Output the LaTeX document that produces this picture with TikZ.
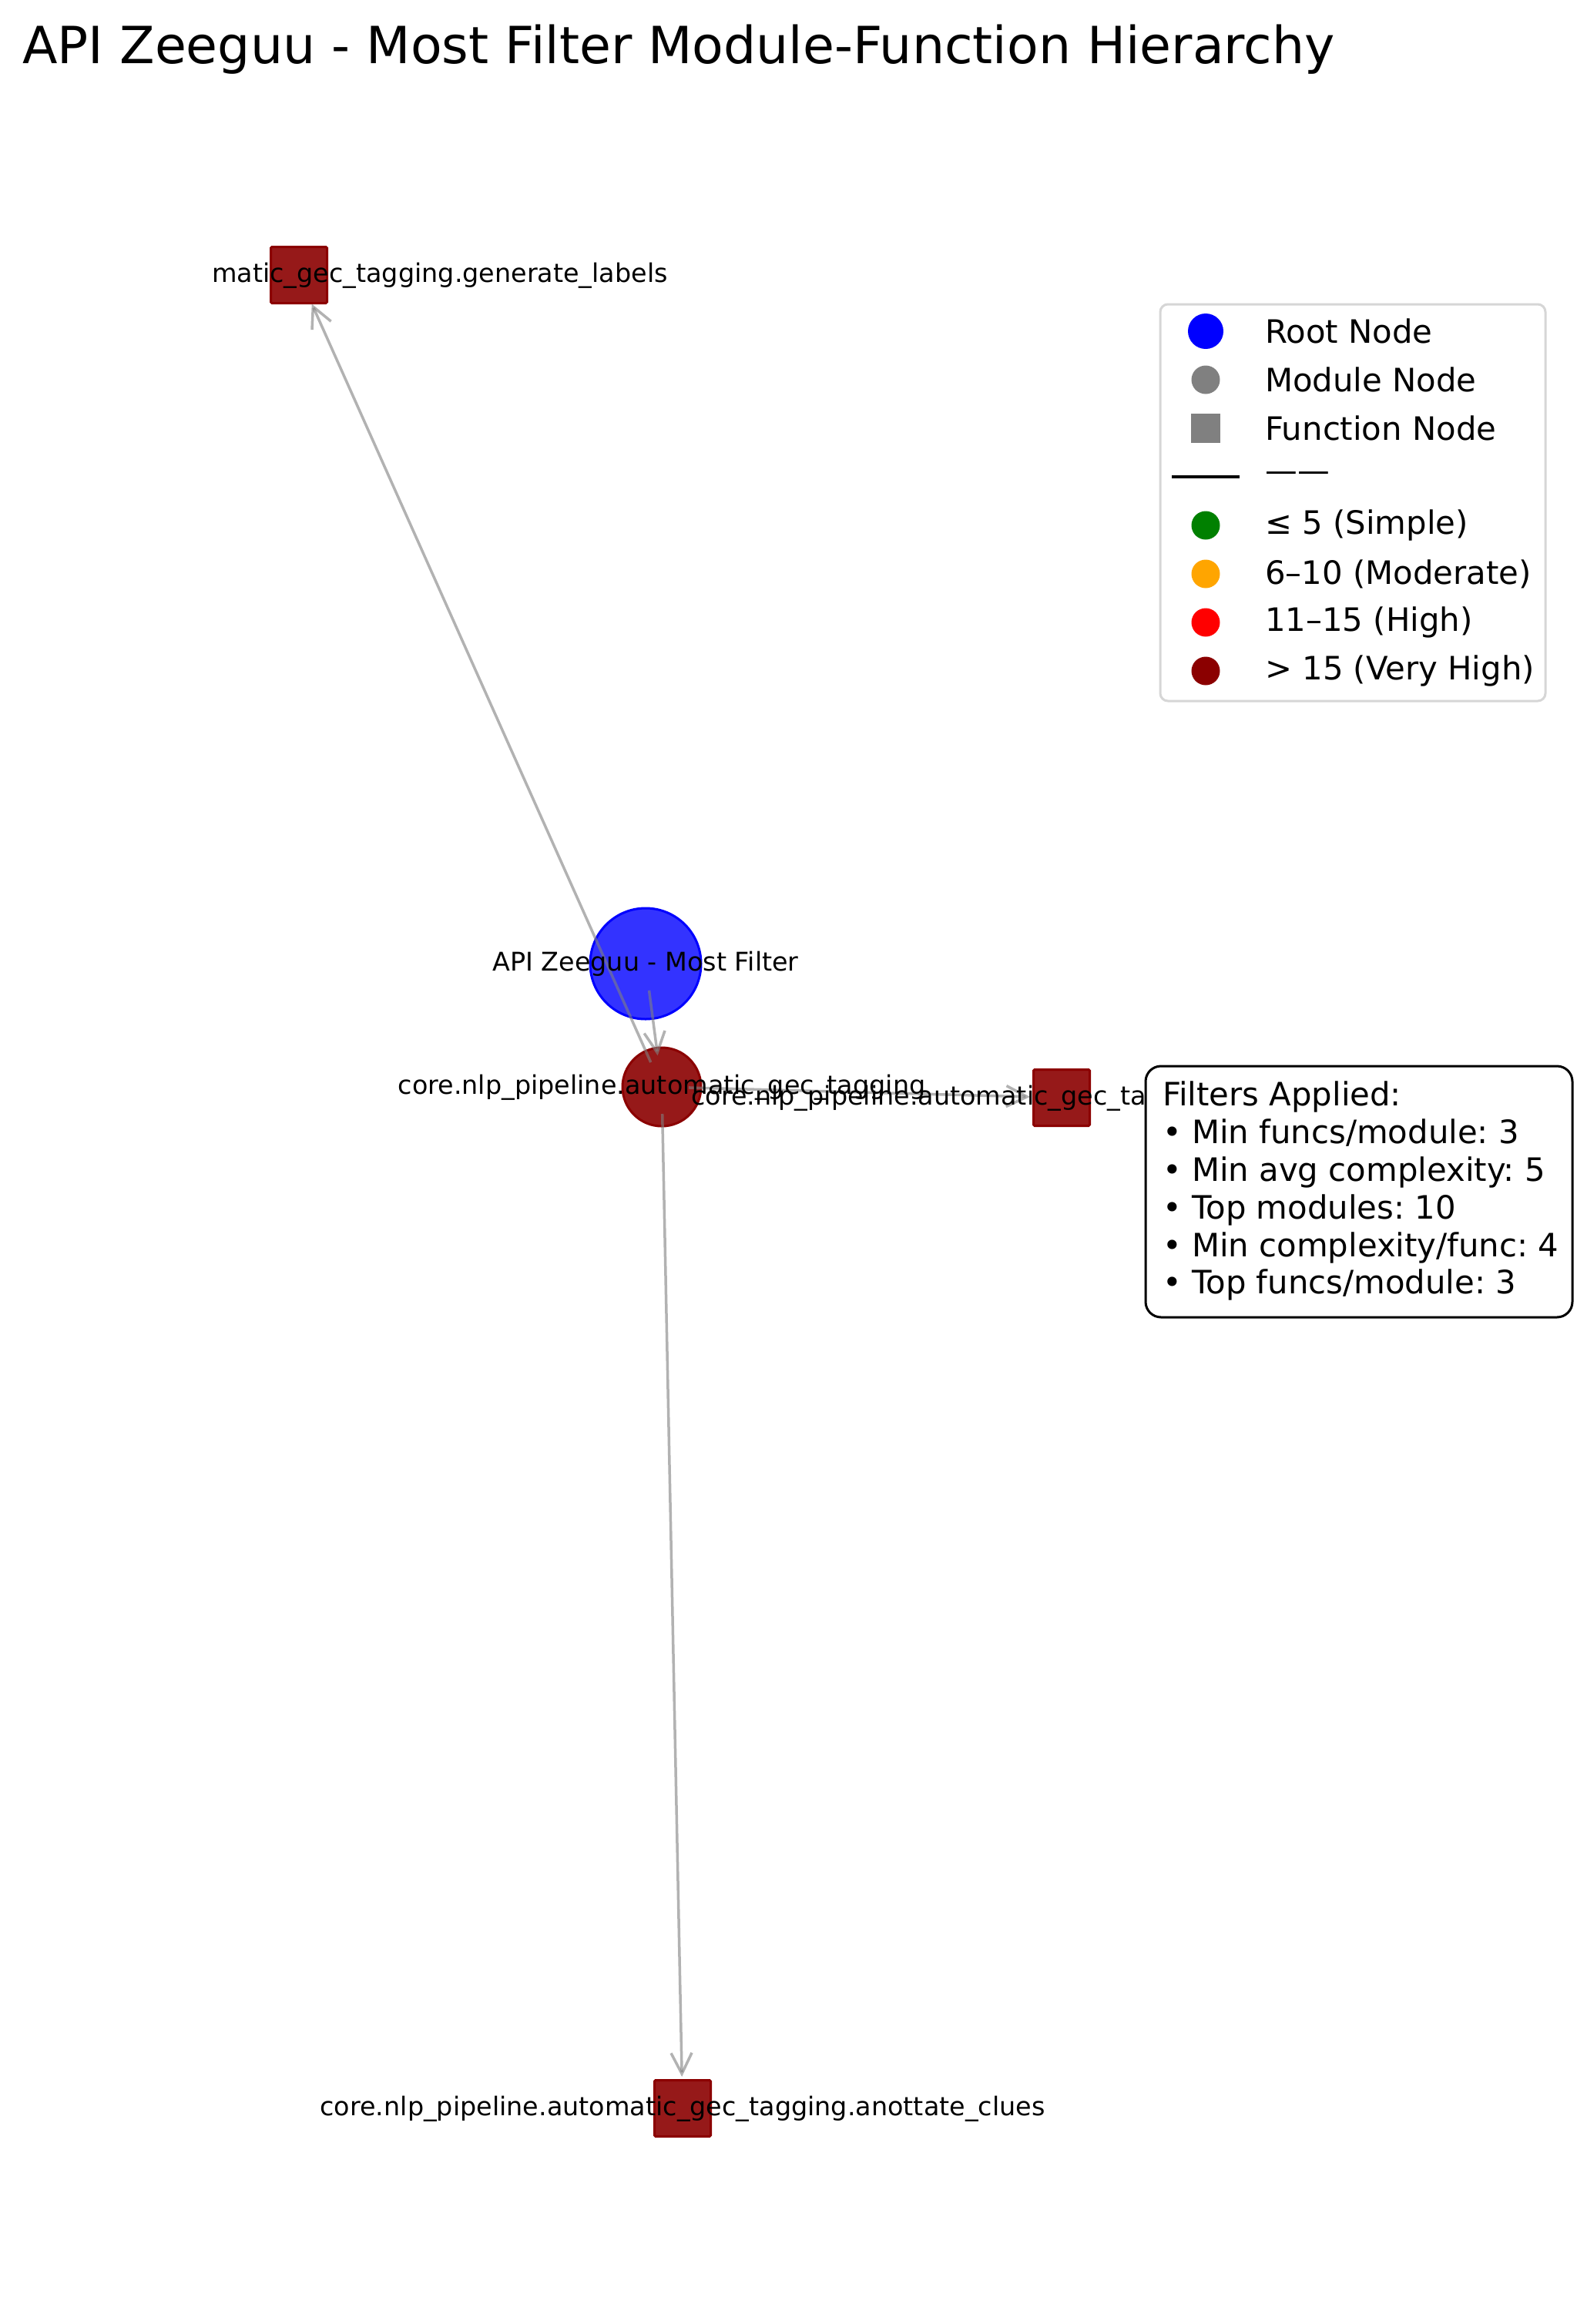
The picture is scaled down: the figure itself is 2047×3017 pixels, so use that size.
\documentclass[tikz,border=0pt]{standalone}
\usepackage{fontspec}
\setmainfont{DejaVu Sans}
\usetikzlibrary{arrows.meta}
\definecolor{dred}{RGB}{139,0,0}
\definecolor{orng}{RGB}{255,165,0}
\definecolor{grn}{RGB}{0,128,0}
\definecolor{lgbord}{RGB}{214,214,214}
\definecolor{mgray}{RGB}{128,128,128}
\frenchspacing
\begin{document}
\begin{tikzpicture}[x=1pt,y=-1pt,
  lbl/.style={font=\fontsize{33.4}{40}\selectfont, inner sep=0pt},
  big/.style={font=\fontsize{41.8}{49}\selectfont, inner sep=0pt, anchor=west},
  rootnode/.style={circle, minimum size=144pt, inner sep=0pt, fill=blue, fill opacity=0.8, draw=blue, line width=3pt},
  modnode/.style={circle, minimum size=102pt, inner sep=0pt, fill=dred, fill opacity=0.9, draw=dred, line width=3pt},
  funcnode/.style={rectangle, minimum size=73pt, inner sep=0pt, fill=dred, fill opacity=0.9, draw=dred, line width=3pt, rounded corners=1.5pt},
  edge/.style={draw=mgray, draw opacity=0.6, line width=3.5pt, -{Straight Barb[length=27pt,width=27pt]}, shorten <=35pt, shorten >=41pt},
  lgdot/.style={circle, minimum size=37pt, inner sep=0pt},
]
\useasboundingbox[fill=white] (0,0) rectangle (2047,3017);

% title
\node[anchor=base west, font=\fontsize{66.5}{78}\selectfont, inner sep=0pt] (title) at (29,82) {API Zeeguu - Most Filter Module-Function Hierarchy};

% graph nodes
\node[rootnode] (root) at (838,1251) {};
\node[modnode] (mod) at (859,1411) {};
\node[funcnode] (fgen) at (388,357) {};
\node[funcnode] (fright) at (1378,1425) {};
\node[funcnode] (fclues) at (886,2737) {};

% edges
\draw[edge] (root.center) -- (mod.center);
\draw[edge] (mod.center) -- (fgen.center);
\draw[edge] (mod.center) -- (fright.center);
\draw[edge] (mod.center) -- (fclues.center);

% labels
\node[lbl, anchor=base] (lroot) at (838,1260) {API Zeeguu - Most Filter};
\node[lbl, anchor=base] (lmod) at (859,1420) {core.nlp\_pipeline.automatic\_gec\_tagging};
\node[lbl, anchor=base east] (lgen) at (867,366) {matic\_gec\_tagging.generate\_labels};
\node[lbl, anchor=base west] (lright) at (897,1434) {core.nlp\_pipeline.automatic\_gec\_ta};
\node[lbl, anchor=base] (lclues) at (886,2746) {core.nlp\_pipeline.automatic\_gec\_tagging.anottate\_clues};

% legend
\draw[lgbord, line width=3pt, fill=white, rounded corners=10pt] (1506,395) rectangle (2006,910);
\node[lgdot, minimum size=46pt, fill=blue] (kroot) at (1565,430) {};
\node[big] (troot) at (1642,430) {Root Node};
\node[lgdot, fill=mgray] (kmod) at (1565,493) {};
\node[big] (tmod) at (1642,493) {Module Node};
\node[rectangle, minimum size=38pt, inner sep=0pt, fill=mgray] (kfunc) at (1565,556) {};
\node[big] (tfunc) at (1642,556) {Function Node};
\coordinate (kla) at (1521,619);
\coordinate (klb) at (1609,619);
\draw[black, line width=4.5pt] (kla) -- (klb);
\node[big] (tline) at (1642,619) {——};
\node[lgdot, fill=grn] (ks) at (1565,682) {};
\node[big] (ts) at (1642,682) {≤ 5 (Simple)};
\node[lgdot, fill=orng] (km) at (1565,745) {};
\node[big] (tm) at (1642,745) {6–10 (Moderate)};
\node[lgdot, fill=red] (kh) at (1565,808) {};
\node[big] (th) at (1642,808) {11–15 (High)};
\node[lgdot, fill=dred] (kv) at (1565,871) {};
\node[big] (tv) at (1642,871) {> 15 (Very High)};

% filters box
\draw[black, line width=3pt, fill=white, rounded corners=20pt] (1487,1384) rectangle (2041,1710);
\node[anchor=north west, inner sep=0pt, font=\fontsize{41.8}{48.8}\selectfont, align=left] (filters) at (1509,1404) {Filters Applied:\\
• Min funcs/module: 3\\
• Min avg complexity: 5\\
• Top modules: 10\\
• Min complexity/func: 4\\
• Top funcs/module: 3};
\end{tikzpicture}
\end{document}
